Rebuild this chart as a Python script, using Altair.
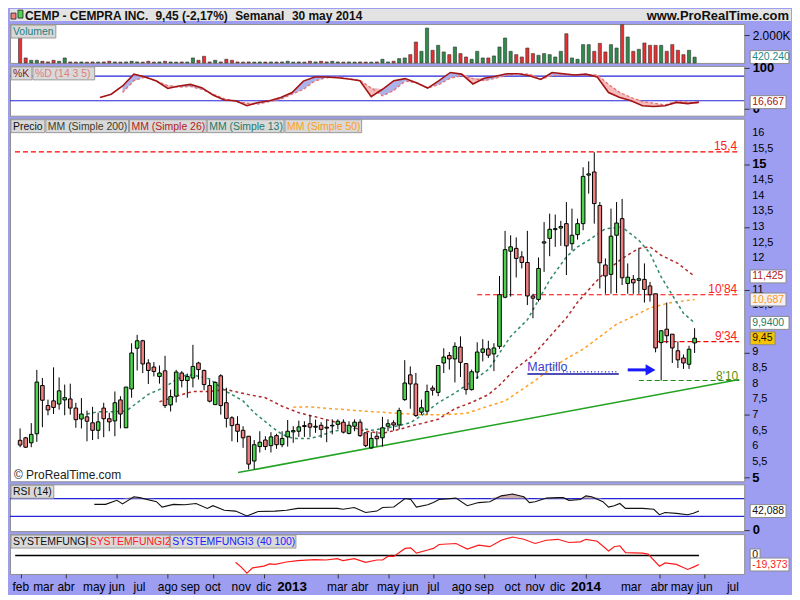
import altair as alt
import pandas as pd

# ---------------- weekly candles ----------------
OPEN = [6.19, 6.27, 6.11, 6.40, 7.94, 7.30, 7.45, 7.35, 7.48, 7.51,
        7.22, 6.87, 6.94, 6.75, 6.51, 7.22, 6.88, 6.81, 7.48, 6.59,
        7.83, 9.13, 9.37, 8.66, 8.53, 8.23, 8.41, 7.32, 7.60, 8.34,
        8.10, 8.18, 8.66, 8.42, 7.94, 7.33, 8.25, 7.39, 6.91, 6.70,
        6.51, 6.32, 5.53, 5.99, 6.20, 6.02, 6.34, 6.05, 6.30, 6.46,
        6.48, 6.66, 6.72, 6.61, 6.67, 6.61, 6.65, 6.70, 6.77, 6.41,
        6.64, 6.77, 6.43, 5.95, 6.32, 6.27, 6.64, 6.75, 6.68, 7.49,
        8.28, 7.99, 7.09, 7.12, 7.86, 7.72, 8.66, 8.90, 8.79, 9.17,
        8.64, 7.81, 8.37, 9.00, 9.11, 8.95, 9.19, 10.76, 12.23, 12.32,
        12.05, 11.87, 10.80, 10.69, 12.49, 12.64, 12.92, 12.97, 13.11, 12.47,
        12.76, 13.11, 14.66, 14.76, 13.69, 11.79, 11.49, 12.74, 13.27, 11.20,
        11.33, 11.30, 11.33, 11.12, 10.87, 9.31, 9.74, 9.58, 9.05, 8.82,
        8.62, 9.30]
HIGH = [6.57, 6.30, 6.74, 8.44, 8.18, 7.49, 8.52, 8.20, 7.97, 8.00,
        7.39, 7.54, 7.14, 7.26, 7.07, 7.39, 7.07, 7.75, 7.60, 7.90,
        9.29, 9.56, 9.40, 8.78, 8.69, 8.58, 8.89, 7.81, 8.44, 8.40,
        8.32, 9.24, 8.70, 8.45, 8.13, 8.07, 8.30, 7.87, 6.96, 6.96,
        6.64, 6.33, 6.20, 6.48, 6.32, 6.45, 6.40, 6.48, 6.84, 6.64,
        6.82, 6.80, 7.00, 6.85, 6.77, 6.85, 6.86, 6.86, 6.86, 6.80,
        6.86, 6.86, 6.43, 6.45, 6.48, 6.94, 6.86, 6.83, 7.23, 8.75,
        8.55, 8.34, 7.49, 7.97, 7.94, 8.58, 9.13, 9.01, 9.32, 9.51,
        8.66, 8.45, 9.32, 9.42, 9.37, 9.29, 11.44, 12.88, 12.74, 12.67,
        12.23, 12.88, 10.87, 12.03, 13.16, 13.43, 13.40, 13.20, 13.80, 13.59,
        13.27, 14.91, 15.10, 15.39, 13.80, 12.00, 13.59, 13.80, 13.90, 11.84,
        11.47, 12.32, 11.84, 11.25, 10.87, 9.69, 10.59, 9.58, 9.35, 8.93,
        9.21, 9.77]
LOW = [5.97, 5.95, 5.97, 6.14, 6.61, 6.99, 7.03, 7.17, 6.99, 7.01,
       6.59, 6.57, 6.16, 6.20, 6.23, 6.29, 6.48, 6.32, 6.57, 6.59,
       7.55, 8.42, 8.34, 7.99, 8.23, 8.00, 7.22, 7.11, 7.40, 7.88,
       7.55, 7.88, 8.13, 7.79, 7.40, 7.33, 7.01, 6.60, 6.16, 6.13,
       5.95, 5.26, 5.26, 5.80, 5.88, 5.80, 5.92, 5.97, 5.99, 6.11,
       6.30, 6.30, 6.30, 6.43, 6.27, 6.13, 6.38, 6.54, 6.41, 6.38,
       6.48, 6.30, 5.97, 5.92, 6.00, 5.99, 6.48, 6.50, 6.54, 7.45,
       7.20, 6.94, 7.01, 7.01, 7.62, 7.60, 8.34, 8.45, 8.04, 8.21,
       7.65, 7.78, 8.15, 8.71, 8.82, 8.40, 9.11, 10.73, 10.78, 11.39,
       11.68, 10.51, 10.09, 10.62, 11.57, 12.07, 12.37, 12.40, 11.47, 12.26,
       12.60, 12.90, 14.07, 13.11, 11.04, 10.87, 10.87, 10.89, 11.15, 10.87,
       10.87, 10.87, 10.59, 10.62, 9.00, 8.10, 9.29, 8.66, 8.50, 8.47,
       8.47, 8.98]
CLOSE = [6.04, 5.97, 6.38, 8.05, 7.47, 7.16, 7.24, 7.77, 7.55, 7.22,
         6.85, 7.03, 6.80, 6.51, 6.78, 6.88, 6.78, 7.39, 7.03, 7.89,
         8.98, 9.37, 8.63, 8.42, 8.39, 8.34, 7.30, 7.59, 8.37, 8.10,
         8.23, 8.55, 8.45, 7.97, 7.44, 8.04, 7.30, 6.89, 6.66, 6.48,
         6.27, 5.43, 6.05, 6.13, 5.99, 6.30, 6.05, 6.25, 6.48, 6.50,
         6.62, 6.63, 6.61, 6.64, 6.54, 6.58, 6.67, 6.80, 6.45, 6.67,
         6.77, 6.34, 6.02, 6.25, 6.24, 6.59, 6.72, 6.68, 7.14, 8.02,
         7.99, 6.98, 7.23, 7.75, 7.79, 8.58, 8.85, 8.79, 9.19, 8.68,
         7.81, 8.38, 9.01, 9.11, 8.91, 9.14, 10.84, 12.28, 12.37, 12.00,
         11.87, 10.80, 10.73, 11.68, 12.53, 12.93, 12.95, 13.02, 12.40, 12.74,
         13.11, 14.62, 14.70, 13.75, 11.86, 11.44, 12.71, 13.13, 11.38, 11.40,
         11.22, 11.35, 11.01, 10.84, 9.14, 9.69, 9.53, 9.14, 8.76, 8.66,
         9.10, 9.45]
VOLUME_K = [1805, 360, 190, 190, 120, 72, 190, 120, 360,
            70, 60, 70, 55, 70, 65, 70,
            120,
            70, 60, 70,
            120, 72, 60, 120, 60, 70, 120,
            70, 60, 70, 65,
            360, 190, 480,
            70, 190, 70, 265, 190,
            70, 60, 70, 60, 70, 60, 70, 65, 70,
            120,
            60, 70, 60,
            120, 70, 120, 70, 120,
            70, 60, 70, 60, 70, 65, 60, 70,
            265, 70, 120, 310,
            360, 600, 1515, 840, 2527, 915, 1275, 795, 600, 1155,
            675, 430, 265, 840, 360, 360, 505, 1155, 1805, 840,
            600, 430, 1080, 675, 550, 675, 600, 430, 840, 2115,
            360, 265, 1325, 1325, 840, 1420, 795, 1325, 1080, 2770,
            1880, 840, 985, 1445, 1275, 1275, 1275, 840, 1325, 915,
            600, 915, 420.24]

# ---------------- indicator lines (by candle index) ----------------
MM13_IDX = [12, 14, 16, 19, 21, 23, 26, 28, 30, 32, 34, 37, 40, 42, 45, 47, 49, 52, 54, 56,
            59, 61, 63, 66, 68, 70, 72, 75, 78, 81, 84, 86, 88, 91, 93, 95, 98, 100, 102, 105,
            108, 111, 113, 115, 117, 119, 121]
MM13_VAL = [7.03, 7.10, 7.10, 7.12, 7.39, 7.66, 7.89, 8.13, 8.29, 8.24, 8.15, 7.75, 7.45, 7.07, 6.64,
            6.38, 6.25, 6.25, 6.34, 6.48, 6.54, 6.59, 6.51, 6.59, 6.66, 6.75, 6.98, 7.39, 7.70, 8.07,
            8.45, 8.98, 9.51, 10.04, 10.67, 11.31, 12.05, 12.37, 12.58, 12.95, 13.00, 12.58, 12.16,
            11.41, 10.83, 10.25, 9.94]
MM26_IDX = [25, 28, 31, 34, 37, 41, 44, 47, 50, 53, 56, 59, 62, 65, 68, 70, 75, 78, 81, 84,
            86, 89, 92, 95, 98, 100, 103, 105, 108, 111, 113, 115, 118, 121]
MM26_VAL = [7.42, 7.60, 7.75, 7.75, 7.81, 7.65, 7.55, 7.28, 7.07, 6.94, 6.80, 6.64, 6.48, 6.41, 6.54,
            6.64, 6.86, 7.20, 7.40, 7.65, 7.95, 8.50, 8.90, 9.50, 10.10, 10.60, 11.20, 11.57, 12.00,
            12.32, 12.37, 12.10, 11.84, 11.425]
MM50_IDX = [49, 52, 56, 62, 68, 72, 76, 80, 84, 87, 90, 92, 95, 98, 101, 104, 107, 110, 113, 116, 118, 121]
MM50_VAL = [7.25, 7.26, 7.20, 7.12, 7.05, 7.01, 7.01, 7.05, 7.28, 7.45, 7.81, 8.05, 8.45, 8.80, 9.10,
            9.50, 9.90, 10.15, 10.42, 10.56, 10.62, 10.687]

STOCH_IDX = list(range(15, 122, 2))
STOCH_K = [28, 36, 56, 85, 78, 68, 50, 56, 60, 52, 34, 22, 20, 8, 16, 20, 28, 40, 68, 78,
           78, 76, 73, 69, 30, 48, 69, 74, 64, 51, 69, 89, 85, 61, 75, 80, 86, 86, 81, 72,
           89, 86, 83, 85, 78, 40, 28, 20, 8, 6, 8, 16, 13, 16.667]
STOCH_D = [None, None, 40, 69, 78, 68, 57, 53, 55, 48, 36, 25, 18, 14, 12, 18, 24, 36, 48, 68,
           76, 78, 74, 70, 51, 32, 45, 68, 64, 51, 60, 75, 81, 74, 69, 75, 82, 86, 85, 73,
           81, 83, 83, 83, 83, 60, 40, 28, 18, 14, 10, 18, 17, 14]

RSI_IDX = [14, 16, 18, 19, 21, 22, 25, 26, 28, 30, 32, 34, 35, 37, 39, 41, 43, 46, 48, 50,
           53, 57, 58, 60, 62, 64, 65, 67, 69, 70, 71, 73, 74, 75, 78, 80, 82, 84, 86, 88,
           90, 91, 92, 94, 96, 97, 98, 100, 101, 102, 104, 105, 106, 107, 108, 111, 113, 114, 115, 117,
           119, 120, 121]
RSI_VAL = [57, 57, 66, 58, 74, 72, 63, 51, 57, 56, 59, 48, 54, 44, 42, 31, 41, 42, 44, 48,
           48, 48, 46, 50, 39, 42, 50, 51, 70, 68, 51, 56, 61, 68, 71, 54, 61, 63, 76, 80,
           74, 61, 63, 71, 72, 72, 66, 68, 76, 74, 63, 51, 54, 59, 48, 48, 46, 34, 39, 37,
           34, 37, 42.088]

FUNGI_IDX = [39, 40, 41, 42, 44, 45, 46, 48, 50, 53, 55, 57, 58, 60, 62, 64, 65, 66, 67, 69,
             70, 71, 73, 74, 75, 78, 80, 82, 84, 86, 88, 90, 92, 94, 96, 98, 100, 101, 103, 105,
             106, 107, 108, 111, 112, 114, 115, 117, 119, 120, 121]
FUNGI_VAL = [-14.6, -25, -38, -26.4, -22.9, -18, -19, -13.9, -11.1, -9, -9.7, -6.9, -11.1, -6.9, -14.6,
             -9.7, -9.7, -1.4, -2, 15.2, 16.5, 4.9, 11.8, 15.2, 23.6, 25.7, 13.9, 22.2, 18.8, 32.6,
             39.6, 34.7, 25.7, 32.6, 34.7, 27.8, 29.2, 34.7, 30.6, 9.7, 18.8, 20.8, 6.2, 4.9, 2.8,
             -22.9, -16, -19, -29.9, -25, -19.373]

LEVEL_VAL = [15.4, 10.84, 9.34, 8.10]
LEVEL_FROM_IDX = [-0.92, 82, 114, 111]
LEVEL_TEXT = ["15,4", "10'84", "9'34", "8'10"]
TREND_IDX = [39.1, 129]
TREND_VAL = [5.16, 8.13]

MONTH_NAMES = ["ene", "feb", "mar", "abr", "may", "jun", "jul", "ago", "sep", "oct", "nov", "dic"]
PRICE_TICKS = [5, 5.5, 6, 6.5, 7, 7.5, 8, 8.5, 9, 9.5, 10, 10.5, 11, 11.5, 12, 12.5, 13, 13.5,
               14, 14.5, 15, 15.5, 16]
PRICE_LABELS_UNDER_BOXES = [9.5, 10, 11.5]   # hidden behind the last-value boxes in the picture
TICKER = "CEMP - CEMPRA INC."
CHANGE_PCT = "-2,17%"
PERIOD = "Semanal"
DATE_TXT = "30 may 2014"
SITE = "www.ProRealTime.com"

# ---------------- layout / style ----------------
W = 737
H_TITLE, H_VOL, H_STO, H_PRICE, H_RSI, H_FUN = 12, 39, 50, 364, 47, 40
LAV = "#9d9df2"
RED_C, GREEN_C = "#f08080", "#4dd44d"
VRED, VGREEN = "#e83030", "#2e8b4a"
CHIP_BG, CHIP_BORDER = "#d9d9d9", "#9a9a9a"
FONT = "Liberation Sans"
CHIP_FS = 10.5
BOX_FS = 10.5

T0 = pd.Timestamp("2012-01-30")
DATES = pd.date_range(T0, periods=len(CLOSE), freq="7D")


def at(i):
    return T0 + pd.Timedelta(days=7 * i)


def dt(ts):
    return alt.DateTime(year=int(ts.year), month=int(ts.month), date=int(ts.day),
                        hours=int(ts.hour), minutes=int(ts.minute), seconds=int(ts.second))


X_START, X_END = at(-0.92), at(129)
XS = alt.Scale(domain=[dt(X_START), dt(X_END)])
XN = alt.X("date:T", scale=XS, axis=None, title=None)
ONE = pd.DataFrame({"k": [0]})
UP = alt.condition("datum.close >= datum.open", alt.value(GREEN_C), alt.value(RED_C))
VUP = alt.condition("datum.close >= datum.open", alt.value(VGREEN), alt.value(VRED))


def chips(items, y0=1, y1=14):
    rects, texts = [], []
    for x0, x1, label, color in items:
        rects.append(alt.Chart(ONE).mark_rect(fill=CHIP_BG, stroke=CHIP_BORDER, strokeWidth=1).encode(
            x=alt.value(x0), x2=alt.value(x1), y=alt.value(y0), y2=alt.value(y1)))
        texts.append(alt.Chart(ONE).mark_text(align="left", baseline="middle", fontSize=CHIP_FS, color=color).encode(
            x=alt.value(x0 + 2), y=alt.value((y0 + y1) / 2 + 0.5), text=alt.value(label)))
    return rects + texts


def vbox(value, yscale, text, fg, bg, width, bold=False):
    d = pd.DataFrame({"v": [value]})
    r = 6.5 / (width / 2.0)
    shape = "M-1,-%.4fH1V%.4fH-1Z" % (r, r)
    box = alt.Chart(d).mark_point(shape=shape, size=width * width, filled=True, fill=bg, stroke="#8c8c8c",
                                  strokeWidth=1, opacity=1).encode(
        x=alt.value(W + 6 + width / 2.0), y=alt.Y("v:Q", scale=yscale, title=None))
    txt = alt.Chart(d).mark_text(align="left", baseline="middle", fontSize=BOX_FS, color=fg,
                                 fontWeight="bold" if bold else "normal").encode(
        x=alt.value(W + 8), y=alt.Y("v:Q", scale=yscale, title=None), text=alt.value(text))
    return [box, txt]


def comma(v, nd):
    return ("%." + str(nd) + "f") % v


cdf = pd.DataFrame({"date": DATES, "open": OPEN, "high": HIGH, "low": LOW, "close": CLOSE, "vol": VOLUME_K})

# ---------------- title bar ----------------
title_layers = [
    alt.Chart(ONE).mark_rect(fill="#e3e3e3").encode(
        x=alt.value(0), x2=alt.value(W + 47), y=alt.value(0), y2=alt.value(H_TITLE)),
    alt.Chart(ONE).mark_rect(fill=RED_C, stroke="#222", strokeWidth=0.8).encode(
        x=alt.value(1), x2=alt.value(6), y=alt.value(4), y2=alt.value(10)),
    alt.Chart(ONE).mark_rect(fill=GREEN_C, stroke="#222", strokeWidth=0.8).encode(
        x=alt.value(8), x2=alt.value(13), y=alt.value(1), y2=alt.value(9)),
]
for xpos, txt in [(15, TICKER), (146, comma(CLOSE[-1], 2).replace(".", ",") + " (" + CHANGE_PCT + ")"),
                  (226, PERIOD), (283, DATE_TXT)]:
    title_layers.append(alt.Chart(ONE).mark_text(align="left", baseline="middle", fontSize=12, fontWeight="bold",
                                                 color="#111").encode(
        x=alt.value(xpos), y=alt.value(6.5), text=alt.value(txt)))
title_layers.append(alt.Chart(ONE).mark_text(align="right", baseline="middle", fontSize=13, fontWeight="bold",
                                             color="#111").encode(
    x=alt.value(W + 45), y=alt.value(6.5), text=alt.value(SITE)))
title_panel = alt.layer(*title_layers).properties(width=W, height=H_TITLE,
                                                  view=alt.ViewBackground(fill="#e3e3e3", stroke=None))

# ---------------- volume ----------------
yV = alt.Scale(domain=[0, 2816], nice=False, zero=True)
vol_axis = alt.Axis(orient="right", values=[2000], labelExpr="replace(format(datum.value, ','), ',', '.') + 'K'",
                    tickSize=5, labelPadding=3, domain=False, grid=False, title=None, labelFontSize=12)
vol_bars = alt.Chart(cdf).mark_bar(width=3.2, stroke="#333", strokeWidth=0.6).encode(
    x=XN, y=alt.Y("vol:Q", scale=yV, axis=vol_axis, title=None), fill=VUP)
vol_panel = alt.layer(
    vol_bars,
    *chips([(1, 46, "Volumen", "#1f8080")]),
    *vbox(VOLUME_K[-1], yV, ("{:,}".format(int(round(VOLUME_K[-1] * 1000)))).replace(",", "."), "#1f8a8a", "white", 39),
).properties(width=W, height=H_VOL)

# ---------------- stochastic ----------------
yS = alt.Scale(domain=[-16.4, 105], nice=False, zero=False)
sto_axis = alt.Axis(orient="right", values=[0, 50, 100], tickSize=5, labelPadding=3, domain=False, grid=False,
                    title=None, labelOverlap=False,
                    labelFontWeight={"condition": {"test": "datum.value != 50", "value": "bold"}, "value": "normal"},
                    labelFontSize={"condition": {"test": "datum.value != 50", "value": 13}, "value": 11})
sdf = pd.DataFrame({"date": [at(i) for i in STOCH_IDX], "K": STOCH_K, "D": STOCH_D})
lvl80 = pd.DataFrame({"v": [80, 20]})
sto_rules = alt.Chart(lvl80).mark_rule(color="#2323d8", strokeWidth=1.2).encode(
    y=alt.Y("v:Q", scale=yS, axis=sto_axis, title=None))
sbase = alt.Chart(sdf).transform_filter("isValid(datum.D)").transform_calculate(top="max(datum.K, datum.D)")
sto_blue = sbase.mark_area(color="#a9aee8", opacity=0.95).encode(
    x=XN, y=alt.Y("top:Q", scale=yS, title=None), y2="D:Q")
sto_pink = sbase.mark_area(color="#f5b8b8", opacity=0.95).encode(
    x=XN, y=alt.Y("top:Q", scale=yS, title=None), y2="K:Q")
sto_d = sbase.mark_line(color="#e57373", strokeWidth=1.3, strokeDash=[3, 2]).encode(
    x=XN, y=alt.Y("D:Q", scale=yS, title=None))
sto_k = alt.Chart(sdf).mark_line(color="#a31515", strokeWidth=1.6).encode(
    x=XN, y=alt.Y("K:Q", scale=yS, title=None))
sto_panel = alt.layer(
    sto_rules, sto_blue, sto_pink, sto_d, sto_k,
    *chips([(1, 22, "%K", "#8b1a1a"), (23, 85, "%D (14 3 5)", "#e07d7d")]),
    *vbox(STOCH_K[-1], yS, comma(STOCH_K[-1], 3).replace(".", ","), "#a01818", "white", 36),
).properties(width=W, height=H_STO)

# ---------------- price ----------------
yP = alt.Scale(domain=[4.881, 16.462], nice=False, zero=False)
price_axis = alt.Axis(orient="right", values=PRICE_TICKS, labels=False,
                      tickSize=5, domain=False, grid=False, title=None)
shown = [v for v in PRICE_TICKS if v not in PRICE_LABELS_UNDER_BOXES]
ptdf = pd.DataFrame({"v": shown, "label": [("%g" % v).replace(".", ",") for v in shown]})
ptick_norm = alt.Chart(ptdf).transform_filter("datum.v % 5 != 0").mark_text(
    align="left", baseline="middle", fontSize=11, color="#000").encode(
    x=alt.value(W + 8), y=alt.Y("v:Q", scale=yP, title=None), text="label:N")
ptick_bold = alt.Chart(ptdf).transform_filter("datum.v % 5 == 0").mark_text(
    align="left", baseline="middle", fontSize=13, fontWeight="bold", color="#000").encode(
    x=alt.value(W + 8), y=alt.Y("v:Q", scale=yP, title=None), text="label:N")

lev = pd.DataFrame({"start": [at(i) for i in LEVEL_FROM_IDX], "end": [X_END] * len(LEVEL_VAL),
                    "v": LEVEL_VAL, "label": LEVEL_TEXT})
lev_red = alt.Chart(lev.iloc[:3])
lev_grn = alt.Chart(lev.iloc[3:])
red_rules = lev_red.mark_rule(color="#ff0000", strokeWidth=1.2, strokeDash=[5, 3]).encode(
    x=alt.X("start:T", scale=XS, axis=None), x2="end:T", y=alt.Y("v:Q", scale=yP, axis=price_axis, title=None))
red_text = lev_red.mark_text(align="right", baseline="alphabetic", dx=-2, dy=-2, fontSize=12, color="#ff2020").encode(
    x=alt.X("end:T", scale=XS, axis=None), y=alt.Y("v:Q", scale=yP, title=None), text="label:N")
grn_rule = lev_grn.mark_rule(color="#1e8a1e", strokeWidth=1.2, strokeDash=[5, 3]).encode(
    x=alt.X("start:T", scale=XS, axis=None), x2="end:T", y=alt.Y("v:Q", scale=yP, title=None))
grn_text = lev_grn.mark_text(align="right", baseline="alphabetic", dx=-1, dy=-1, fontSize=12, color="#5f8f12").encode(
    x=alt.X("end:T", scale=XS, axis=None), y=alt.Y("v:Q", scale=yP, title=None), text="label:N")
tdf = pd.DataFrame({"date": [at(i) for i in TREND_IDX], "v": TREND_VAL})
trend = alt.Chart(tdf).mark_line(color="#23a323", strokeWidth=1.5).encode(
    x=XN, y=alt.Y("v:Q", scale=yP, title=None))


def ma_layer(idx, vals, color):
    d = pd.DataFrame({"date": [at(i) for i in idx], "v": vals})
    return alt.Chart(d).mark_line(color=color, strokeWidth=1.5, strokeDash=[3, 3]).encode(
        x=XN, y=alt.Y("v:Q", scale=yP, title=None))


mm26 = ma_layer(MM26_IDX, MM26_VAL, "#b22a2a")
mm50 = ma_layer(MM50_IDX, MM50_VAL, "#ffa024")
mm13 = ma_layer(MM13_IDX, MM13_VAL, "#2e8b66")
wicks = alt.Chart(cdf).mark_rule(color="black", strokeWidth=1).encode(
    x=XN, y=alt.Y("low:Q", scale=yP, title=None), y2="high:Q")
bodies = alt.Chart(cdf).mark_bar(width=3.6, stroke="black", strokeWidth=1).encode(
    x=XN, y=alt.Y("open:Q", scale=yP, title=None), y2="close:Q", fill=UP)

# "Martillo" annotation
mart_txt = alt.Chart(pd.DataFrame({"date": [at(91)], "v": [8.54]})).mark_text(
    align="left", baseline="middle", fontSize=12.5, color="#3b3bcc").encode(
    x=XN, y=alt.Y("v:Q", scale=yP, title=None), text=alt.value("Martillo"))
mart_dots = alt.Chart(pd.DataFrame({"date": [at(97.4)], "d2": [at(107.3)], "v": [8.38]})).mark_rule(
    color="#3b3bcc", strokeWidth=1.4, strokeDash=[1, 2.5]).encode(
    x=XN, x2="d2:T", y=alt.Y("v:Q", scale=yP, title=None))
mart_line = alt.Chart(pd.DataFrame({"date": [at(91)], "d2": [at(107.4)], "v": [8.31]})).mark_rule(
    color="#1414a0", strokeWidth=1.5).encode(
    x=XN, x2="d2:T", y=alt.Y("v:Q", scale=yP, title=None))
arrow_shaft = alt.Chart(pd.DataFrame({"date": [at(109)], "d2": [at(112.6)], "v": [8.44]})).mark_rule(
    color="#1a1aff", strokeWidth=3).encode(
    x=XN, x2="d2:T", y=alt.Y("v:Q", scale=yP, title=None))
arrow_head = alt.Chart(pd.DataFrame({"date": [at(113.1)], "v": [8.44]})).mark_point(
    shape="triangle-right", size=130, filled=True, color="#1a1aff", opacity=1).encode(
    x=XN, y=alt.Y("v:Q", scale=yP, title=None))
copyright_txt = alt.Chart(ONE).mark_text(align="left", baseline="middle", fontSize=12, color="#222").encode(
    x=alt.value(4), y=alt.value(H_PRICE - 6), text=alt.value("\u00a9 ProRealTime.com"))

price_panel = alt.layer(
    red_rules, grn_rule, trend, mm50, mm26, mm13, wicks, bodies, red_text, grn_text,
    mart_dots, mart_line, mart_txt, arrow_shaft, arrow_head, copyright_txt,
    ptick_norm, ptick_bold,
    *chips([(1, 35, "Precio", "#111"), (36, 119, "MM (Simple 200)", "#3c3c2c"),
            (120, 197, "MM (Simple 26)", "#b22222"), (198, 275, "MM (Simple 13)", "#1f7a6a"),
            (276, 353, "MM (Simple 50)", "#ff9f1c")]),
    *vbox(MM26_VAL[-1], yP, comma(MM26_VAL[-1], 3).replace(".", ","), "#b01c1c", "white", 36),
    *vbox(MM50_VAL[-1], yP, comma(MM50_VAL[-1], 3).replace(".", ","), "#ff9a1a", "#f4f0f6", 36),
    *vbox(MM13_VAL[-1], yP, comma(MM13_VAL[-1], 4).replace(".", ","), "#1f7a6a", "white", 39),
    *vbox(CLOSE[-1], yP, comma(CLOSE[-1], 2).replace(".", ","), "#111", "#f5c400", 25),
).properties(width=W, height=H_PRICE)

# ---------------- RSI ----------------
yR = alt.Scale(domain=[-2.7, 101.8], nice=False, zero=False)
rsi_axis = alt.Axis(orient="right", values=[0], tickSize=5, labelPadding=3, domain=False, grid=False, title=None,
                    labelFontWeight="bold", labelFontSize=13)
rdf = pd.DataFrame({"date": [at(i) for i in RSI_IDX], "rsi": RSI_VAL})
rsi_rules = alt.Chart(pd.DataFrame({"v": [70, 30]})).mark_rule(color="#2323d8", strokeWidth=1.2).encode(
    y=alt.Y("v:Q", scale=yR, axis=rsi_axis, title=None))
rsi_fill = alt.Chart(rdf).transform_calculate(top="max(datum.rsi, 70)", base="70").mark_area(
    color="#c9aaa6", opacity=0.95).encode(x=XN, y=alt.Y("top:Q", scale=yR, title=None), y2="base:Q")
rsi_line = alt.Chart(rdf).mark_line(color="#111", strokeWidth=1.1).encode(
    x=XN, y=alt.Y("rsi:Q", scale=yR, title=None))
rsi_panel = alt.layer(
    rsi_rules, rsi_fill, rsi_line,
    *chips([(1, 44, "RSI (14)", "#111")]),
    *vbox(RSI_VAL[-1], yR, comma(RSI_VAL[-1], 3).replace(".", ","), "#111", "white", 36),
).properties(width=W, height=H_RSI)

# ---------------- SYSTEMFUNGI + time axis ----------------
yF = alt.Scale(domain=[-39.6, 45.8], nice=False, zero=False)
ext = pd.date_range(T0, periods=129, freq="7D")
TICK_DATES = [d for k, d in enumerate(ext)
              if k > 0 and d.month != ext[k - 1].month and not (d.month == 2 and d.year > 2012)]
TICK_LABELS = [str(d.year) if d.month == 1 else MONTH_NAMES[d.month - 1] for d in TICK_DATES]
xt = pd.DataFrame({"date": TICK_DATES, "label": TICK_LABELS, "year": [d.month == 1 for d in TICK_DATES]})
x_axis = alt.Axis(values=[dt(d) for d in TICK_DATES], labels=False, tickSize=4, domain=False, grid=False,
                  title=None)
xlab_m = alt.Chart(xt).transform_filter("!datum.year").mark_text(
    align="center", baseline="middle", fontSize=12, color="#000").encode(
    x=alt.X("date:T", scale=XS, title=None), y=alt.value(H_FUN + 13), text="label:N")
xlab_y = alt.Chart(xt).transform_filter("datum.year").mark_text(
    align="center", baseline="middle", fontSize=13.5, fontWeight="bold", color="#000").encode(
    x=alt.X("date:T", scale=XS, title=None), y=alt.value(H_FUN + 13), text="label:N")
zdf = pd.DataFrame({"date": [DATES[0]], "d2": [DATES[-1]], "v": [0]})
fun_zero = alt.Chart(zdf).mark_rule(color="black", strokeWidth=1.3).encode(
    x=alt.X("date:T", scale=XS, axis=x_axis, title=None), x2="d2:T",
    y=alt.Y("v:Q", scale=yF, axis=None, title=None))
fdf = pd.DataFrame({"date": [at(i) for i in FUNGI_IDX], "v": FUNGI_VAL})
fun_line = alt.Chart(fdf).mark_line(color="#ff1a1a", strokeWidth=1.2).encode(
    x=alt.X("date:T", scale=XS, title=None), y=alt.Y("v:Q", scale=yF, axis=None, title=None))
fun_panel = alt.layer(
    fun_zero, fun_line, xlab_m, xlab_y,
    *chips([(1, 77, "SYSTEMFUNGI", "#111"), (78, 160, "SYSTEMFUNGI2", "#ff2020"),
            (161, 287, "SYSTEMFUNGI3 (40 100)", "#2020ff")]),
    *vbox(0, yF, "0", "#111", "white", 10),
    *vbox(FUNGI_VAL[-1], yF, comma(FUNGI_VAL[-1], 3).replace(".", ","), "#ff1a1a", "white", 39),
).properties(width=W, height=H_FUN)

chart = alt.vconcat(title_panel, vol_panel, sto_panel, price_panel, rsi_panel, fun_panel,
                    spacing=3, bounds="flush").properties(
    background=LAV, padding=0
).configure(font=FONT).configure_view(fill="white", stroke="#8f8f8f", strokeWidth=1).configure_axis(
    labelFont=FONT, labelColor="#000", tickColor="#333", labelOverlap=False)

chart.save("out.html", embed_options={"renderer": "svg", "actions": False})
